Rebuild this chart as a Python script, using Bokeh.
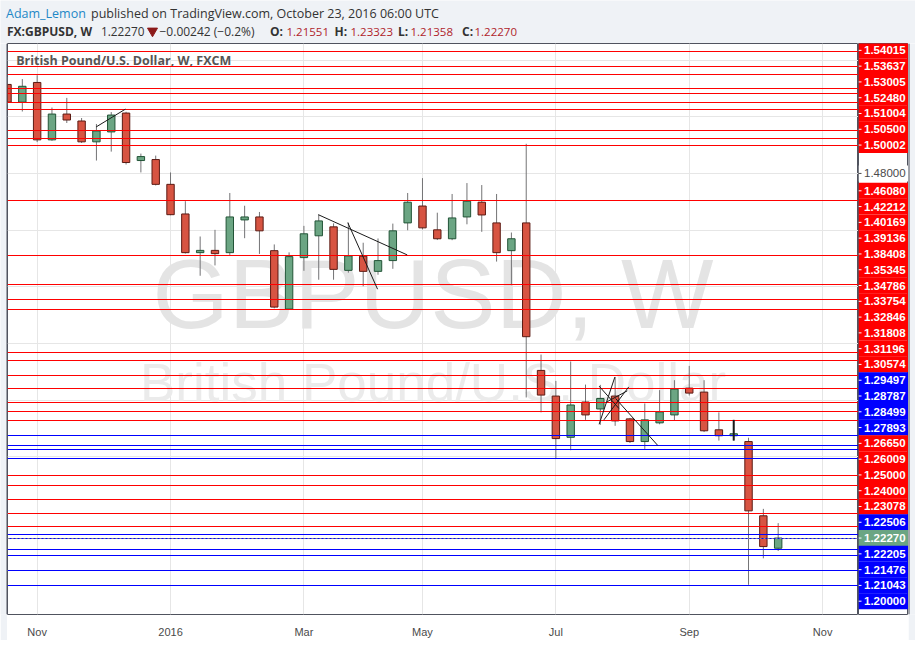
import pandas as pd
from bokeh.plotting import figure
from bokeh.models import Range1d, FixedTicker, ColumnDataSource
from bokeh.layouts import column, row
from bokeh.core.properties import value
from bokeh.embed import file_html
from bokeh.resources import INLINE

# ---------------- data ----------------
first_week = "2015-10-18"   # Sunday-stamped weekly bars
opens = [1.5428, 1.5303, 1.5442, 1.5037, 1.5219, 1.5170, 1.5023, 1.5093, 1.5226, 1.4891,
         1.4898, 1.4723, 1.4514, 1.4241, 1.4257, 1.4241, 1.4472, 1.4493, 1.4255, 1.3843,
         1.4206, 1.4360, 1.4423, 1.4116, 1.4216, 1.4109, 1.4185, 1.4451, 1.4570, 1.4402,
         1.4339, 1.4493, 1.4597, 1.4451, 1.4255, 1.4451, 1.3410, 1.3229, 1.2938, 1.3187,
         1.3138, 1.3229, 1.3068, 1.2908, 1.3040, 1.3096, 1.3285, 1.3257, 1.2991, 1.2949,
         1.2908, 1.2384, 1.21551]
highs = [1.5480, 1.5466, 1.5493, 1.5265, 1.5333, 1.5191, 1.5149, 1.5233, 1.5235, 1.4940,
         1.4926, 1.4807, 1.4604, 1.4355, 1.4402, 1.4662, 1.4572, 1.4528, 1.4299, 1.4243,
         1.4430, 1.4509, 1.4448, 1.4453, 1.4311, 1.4341, 1.4446, 1.4662, 1.4767, 1.4523,
         1.4655, 1.4732, 1.4718, 1.4655, 1.4383, 1.5009, 1.3522, 1.3336, 1.3473, 1.3310,
         1.3308, 1.3364, 1.3075, 1.3177, 1.3271, 1.3341, 1.3442, 1.3341, 1.3114, 1.3061,
         1.2935, 1.2433, 1.23323]
lows = [1.5285, 1.5237, 1.5021, 1.5030, 1.5156, 1.5015, 1.4891, 1.4954, 1.4863, 1.4807,
        1.4715, 1.4505, 1.4235, 1.4078, 1.4151, 1.4225, 1.4343, 1.4232, 1.3848, 1.3836,
        1.4113, 1.4050, 1.4050, 1.4100, 1.4004, 1.4085, 1.4127, 1.4399, 1.4405, 1.4330,
        1.4329, 1.4441, 1.4388, 1.4178, 1.4011, 1.3219, 1.3114, 1.2789, 1.2847, 1.3061,
        1.3026, 1.3019, 1.2898, 1.2856, 1.3030, 1.3054, 1.3233, 1.2975, 1.2915, 1.2915,
        1.1897, 1.2084, 1.21358]
closes = [1.5303, 1.5415, 1.5037, 1.5219, 1.5177, 1.5023, 1.5100, 1.5212, 1.4877, 1.4919,
          1.4723, 1.4509, 1.4241, 1.4257, 1.4234, 1.4493, 1.4493, 1.4395, 1.3857, 1.4213,
          1.4374, 1.4465, 1.4123, 1.4218, 1.4109, 1.4185, 1.4395, 1.4597, 1.4416, 1.4339,
          1.4486, 1.4604, 1.4507, 1.4241, 1.4339, 1.3648, 1.3236, 1.2929, 1.3166, 1.3096,
          1.3212, 1.3054, 1.2908, 1.3061, 1.3117, 1.3278, 1.3250, 1.2984, 1.2949, 1.2963,
          1.2419, 1.2167, 1.22270]

tick_dates = ["2015-11-01", "2016-01-03", "2016-03-06", "2016-05-01",
              "2016-07-03", "2016-09-04", "2016-11-06"]
tick_labels = ["Nov", "2016", "Mar", "May", "Jul", "Sep", "Nov"]

red_levels = [1.56593, 1.55562, 1.55000, 1.54015, 1.53637, 1.53005, 1.52480, 1.51004,
              1.50500, 1.50002, 1.46080, 1.42212, 1.40169, 1.39136, 1.38408, 1.35345,
              1.34786, 1.33754, 1.32846, 1.31808, 1.31196, 1.30574, 1.26650, 1.26009,
              1.25000, 1.24000, 1.23078]
blue_levels = [1.29497, 1.28787, 1.28499, 1.27893, 1.22506, 1.22205, 1.21476, 1.21043,
               1.20000, 1.18951]
last_price = 1.22270
grid_levels = [1.20, 1.24, 1.28, 1.32, 1.36, 1.40, 1.44, 1.48, 1.52, 1.56]
shown_tick = 1.48

# hand-drawn trend lines (bar index, price)
trend_x0 = [5.98, 20.97, 22.96, 39.92, 39.92, 40.24, 40.46, 41.03, 49.0]
trend_y0 = [1.5128, 1.4509, 1.4453, 1.3030, 1.3299, 1.3061, 1.3189, 1.3212, 1.3061]
trend_x1 = [7.96, 26.97, 24.97, 40.98, 41.25, 41.92, 41.82, 43.88, 49.0]
trend_y1 = [1.5254, 1.4225, 1.3983, 1.3363, 1.3142, 1.3294, 1.3266, 1.2880, 1.2915]
trend_w = [1, 1, 1, 1, 1, 1, 1, 1, 2]

# ---------------- geometry ----------------
PAGE_W, PAGE_H = 915, 646
H_HEAD = 43
LEFT_PAD, RIGHT_PAD, BOTTOM_PAD = 7, 7, 6
W_AX = 50
W_MAIN = PAGE_W - LEFT_PAD - RIGHT_PAD - W_AX        # 851
AX_H = 20
H_MAIN = PAGE_H - H_HEAD - BOTTOM_PAD                 # 597
FRAME_H = H_MAIN - AX_H                               # 577
X0, X1 = 0.0, 57.42
Y_BOT, Y_TOP = 1.16876, 1.57169
PX_X = W_MAIN / (X1 - X0)
BG = "#eff2f6"
BORDER = "#50535e"
UP, DOWN, UP_B, DOWN_B, WICK = "#6ba583", "#d75442", "#225437", "#5b1a13", "#737375"


def to_px(pr):
    return (Y_TOP - pr) / (Y_TOP - Y_BOT) * FRAME_H


def to_price(px):
    return Y_TOP - px / FRAME_H * (Y_TOP - Y_BOT)


def blank(w, h):
    f = figure(width=w, height=h, x_range=Range1d(0, w), y_range=Range1d(h, 0),
               toolbar_location=None, output_backend="svg", x_axis_location=None,
               y_axis_location=None, min_border=0, background_fill_color=BG,
               border_fill_color=BG, outline_line_color=None)
    f.grid.visible = False
    return f


t0 = pd.Timestamp(first_week)
tick_idx = [int((pd.Timestamp(d) - t0).days // 7) for d in tick_dates]
idx = list(range(len(opens)))

# ---------------- header ----------------
head = blank(PAGE_W, H_HEAD)
F = value("Open Sans")
DARK = "#333333"
VAL = "#b0242b"


def htext(x, y, s, color=DARK, bold=False, size="12.5px"):
    head.text(x=[x], y=[y], text=[s], text_font=F, text_font_size=size,
              text_font_style="bold" if bold else "normal", text_color=color,
              text_baseline="middle", text_align="left")


htext(5.5, 12.5, "Adam_Lemon", "#1e88c7")
htext(90.5, 12.5, "published on TradingView.com, October 23, 2016 06:00 UTC")
htext(6.5, 31, "FX:GBPUSD, W", bold=True, size="12px")
htext(100.5, 31, "1.22270", size="11.8px")
head.scatter(x=[152], y=[30.5], marker="inverted_triangle", size=10,
             fill_color="#8b1a1a", line_color="#8b1a1a")
htext(159, 31, "\u22120.00242 (\u22120.2%)", size="12px")
htext(269.5, 31, "O:", bold=True, size="12px")
htext(286, 31, "1.21551", VAL, size="11.5px")
htext(334, 31, "H:", bold=True, size="12px")
htext(350, 31, "1.23323", VAL, size="11.5px")
htext(397.5, 31, "L:", bold=True, size="12px")
htext(410, 31, "1.21358", VAL, size="11.5px")
htext(461.5, 31, "C:", bold=True, size="12px")
htext(474, 31, "1.22270", VAL, size="11.5px")

# ---------------- main chart ----------------
p = figure(width=W_MAIN, height=H_MAIN, x_range=Range1d(X0, X1), y_range=Range1d(Y_BOT, Y_TOP),
           toolbar_location=None, output_backend="svg", y_axis_location=None,
           min_border=0, min_border_bottom=AX_H, outline_line_color=BORDER,
           background_fill_color="white", border_fill_color="white")
p.xaxis.ticker = FixedTicker(ticks=tick_idx)
p.xaxis.major_label_overrides = {i: s for i, s in zip(tick_idx, tick_labels)}
p.xaxis.axis_line_color = None
p.xaxis.major_tick_line_color = None
p.xaxis.minor_tick_line_color = None
p.xaxis.major_label_text_font = "Liberation Sans"
p.xaxis.major_label_text_font_size = "11px"
p.xaxis.major_label_text_color = "#4a4a4a"
p.xaxis.major_label_standoff = 5
p.xgrid.ticker = FixedTicker(ticks=tick_idx)
p.xgrid.grid_line_color = "#e6e6e6"
p.ygrid.ticker = FixedTicker(ticks=grid_levels)
p.ygrid.grid_line_color = "#e6e6e6"

xm = (X0 + X1) / 2
p.text(x=[xm], y=[to_price(253)], text=["GBPUSD, W"], text_font=value("Liberation Sans"),
       text_font_size="98px", text_color="#e4e4e4", text_align="center", text_baseline="middle")
p.text(x=[xm], y=[to_price(343)], text=["British Pound/U.S. Dollar"],
       text_font=value("Liberation Sans"), text_font_size="53px", text_color="#ebebeb",
       text_align="center", text_baseline="middle")
p.text(x=[X0 + 8.7 / PX_X], y=[to_price(17)], text=["British Pound/U.S. Dollar, W, FXCM"],
       text_font=F, text_font_size="12.5px", text_font_style="bold", text_color="#555555",
       text_baseline="middle")

# candles
up = [c >= o for o, c in zip(opens, closes)]
src = ColumnDataSource(dict(
    x=idx, h=highs, l=lows,
    top=[max(o, c) for o, c in zip(opens, closes)],
    bot=[min(o, c) for o, c in zip(opens, closes)],
    fill=[UP if u else DOWN for u in up],
    edge=[UP_B if u else DOWN_B for u in up]))
p.segment(x0="x", x1="x", y0="l", y1="h", line_color=WICK, line_width=1, source=src)
p.vbar(x="x", width=0.5, top="top", bottom="bot", fill_color="fill", line_color="edge",
       line_width=1, source=src)

# horizontal levels
p.hspan(y=red_levels, line_color="#ff0000", line_width=1)
p.hspan(y=blue_levels, line_color="#0000ff", line_width=1)
p.hspan(y=[last_price], line_color="#8c8c8c", line_width=1, line_dash="2 2")

# trend lines
p.segment(x0=trend_x0, y0=trend_y0, x1=trend_x1, y1=trend_y1, line_color="#1a1a1a",
          line_width=trend_w)

# ---------------- price scale ----------------
ax = figure(width=W_AX, height=H_MAIN, x_range=Range1d(0, W_AX), y_range=p.y_range,
            toolbar_location=None, output_backend="svg", x_axis_location=None,
            y_axis_location=None, min_border=0, min_border_bottom=AX_H,
            outline_line_color=BORDER, background_fill_color="white",
            border_fill_color="white")
ax.grid.visible = False

labels = [(v, "red") for v in red_levels] + [(v, "blue") for v in blue_levels] + \
         [(last_price, "cur"), (shown_tick, "tick")]
labels.sort(key=lambda t: -t[0])
anchor = [k for _, k in labels].index("cur")
pos = [to_px(v) for v, _ in labels]
STEP = 15.95
for i in range(anchor - 1, -1, -1):
    pos[i] = min(pos[i], pos[i + 1] - STEP)
for i in range(anchor + 1, len(labels)):
    pos[i] = max(pos[i], pos[i - 1] + STEP)
keep = [i for i in range(len(labels)) if 5 <= pos[i] <= FRAME_H - 8]

fills = {"red": "#ff0000", "blue": "#0000ff", "cur": UP, "tick": "white"}
lab = ColumnDataSource(dict(
    y=[to_price(pos[i]) for i in keep],
    fill=[fills[labels[i][1]] for i in keep],
    tcol=["#4a4a4a" if labels[i][1] == "tick" else "white" for i in keep]))
ax.rect(x=W_AX / 2, y="y", width=W_AX, height=16, height_units="screen",
        fill_color="fill", line_color=None, source=lab)
ax.segment(x0=0, x1=3, y0="y", y1="y", line_color="tcol", line_width=1, source=lab)
bold_src = ColumnDataSource(dict(
    y=[to_price(pos[i]) for i in keep if labels[i][1] != "tick"],
    text=["%.5f" % labels[i][0] for i in keep if labels[i][1] != "tick"]))
tick_src = ColumnDataSource(dict(
    y=[to_price(pos[i]) for i in keep if labels[i][1] == "tick"],
    text=["%.5f" % labels[i][0] for i in keep if labels[i][1] == "tick"]))
ax.text(x=5.5, y="y", text="text", text_color="white", text_font=value("Liberation Sans"),
        text_font_style="bold", text_font_size="11.5px", text_baseline="middle", source=bold_src)
ax.text(x=5.5, y="y", text="text", text_color="#4a4a4a", text_font=value("Liberation Sans"),
        text_font_size="11.5px", text_baseline="middle", source=tick_src)

# ---------------- frame around the chart block ----------------
left_pad = blank(LEFT_PAD, H_MAIN)
left_pad.segment(x0=[LEFT_PAD], x1=[LEFT_PAD], y0=[0], y1=[H_MAIN], line_color=BORDER, line_width=2)
right_pad = blank(RIGHT_PAD, H_MAIN)
right_pad.segment(x0=[0], x1=[0], y0=[0], y1=[H_MAIN], line_color=BORDER, line_width=2)
bottom_pad = blank(PAGE_W, BOTTOM_PAD)
bottom_pad.segment(x0=[LEFT_PAD - 1], x1=[PAGE_W - RIGHT_PAD + 1], y0=[0], y1=[0],
                   line_color=BORDER, line_width=2)

layout = column(head, row(left_pad, p, ax, right_pad), bottom_pad)
open("out.html", "w").write(file_html(layout, INLINE))
